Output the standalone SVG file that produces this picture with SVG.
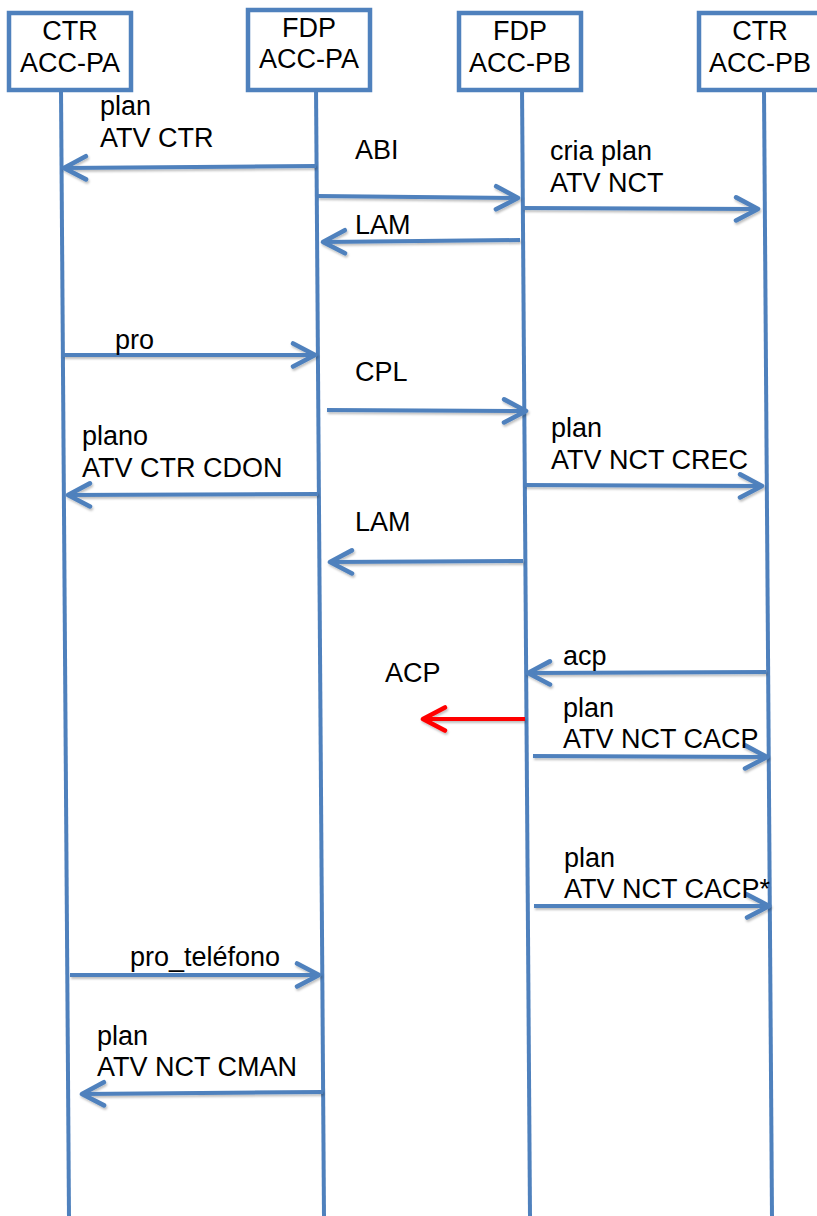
<svg xmlns="http://www.w3.org/2000/svg" width="817" height="1216" viewBox="0 0 817 1216">
<style>
.box{fill:#fff;stroke:#4F81BD;stroke-width:4.5}
.life{stroke:#4F81BD;stroke-width:4;fill:none}
.msg{stroke:#4F81BD;stroke-width:4;fill:none;marker-end:url(#ah);filter:url(#sh)}
.red{stroke:#FF0000;stroke-width:4;fill:none;marker-end:url(#ahr);filter:url(#sh)}
text{font-family:"Liberation Sans",Arial,sans-serif;font-size:27px;fill:#000}
.c{text-anchor:middle}
</style>
<defs>
<filter id="sh" filterUnits="userSpaceOnUse" x="0" y="0" width="817" height="1216">
<feDropShadow dx="1" dy="2" stdDeviation="1.2" flood-color="#000" flood-opacity="0.25"/>
</filter>
<marker id="ah" markerUnits="userSpaceOnUse" markerWidth="30" markerHeight="30" viewBox="-22 -13 26 26" refX="0" refY="0" orient="auto">
<path d="M-19,-10 L0,0 L-19,10" fill="none" stroke="#4F81BD" stroke-width="4" stroke-linecap="round" stroke-linejoin="round"/>
</marker>
<marker id="ahr" markerUnits="userSpaceOnUse" markerWidth="30" markerHeight="30" viewBox="-22 -13 26 26" refX="0" refY="0" orient="auto">
<path d="M-19,-10 L0,0 L-19,10" fill="none" stroke="#FF0000" stroke-width="4" stroke-linecap="round" stroke-linejoin="round"/>
</marker>
</defs>
<g id="lifelines">
<line class="life" x1="61" y1="90" x2="69" y2="1216"/>
<line class="life" x1="316" y1="86" x2="324" y2="1216"/>
<line class="life" x1="522" y1="86" x2="530" y2="1216"/>
<line class="life" x1="764" y1="90" x2="772" y2="1216"/>
</g>
<g id="node-ctr-pa">
<rect class="box" x="9" y="13" width="122" height="77"/>
<text class="c" x="70" y="40">CTR</text>
<text class="c" x="70" y="72">ACC-PA</text>
</g>
<g id="node-fdp-pa">
<rect class="box" x="248" y="10" width="122" height="80"/>
<text class="c" x="309" y="37">FDP</text>
<text class="c" x="309" y="68">ACC-PA</text>
</g>
<g id="node-fdp-pb">
<rect class="box" x="459" y="13" width="122" height="77"/>
<text class="c" x="520" y="40">FDP</text>
<text class="c" x="520" y="72">ACC-PB</text>
</g>
<g id="node-ctr-pb">
<rect class="box" x="699" y="13" width="122" height="77"/>
<text class="c" x="760" y="40">CTR</text>
<text class="c" x="760" y="72">ACC-PB</text>
</g>
<g id="connectors">
<line class="msg" x1="316" y1="166" x2="64" y2="168"/>
<line class="msg" x1="318" y1="196" x2="518" y2="198"/>
<line class="msg" x1="520" y1="240" x2="323" y2="242"/>
<line class="msg" x1="523" y1="208" x2="758" y2="209"/>
<line class="msg" x1="63" y1="355" x2="315" y2="355"/>
<line class="msg" x1="327" y1="410" x2="526" y2="411"/>
<line class="msg" x1="318" y1="494" x2="68" y2="495"/>
<line class="msg" x1="525" y1="485" x2="762" y2="486"/>
<line class="msg" x1="523" y1="561" x2="330" y2="562"/>
<line class="msg" x1="766" y1="672" x2="528" y2="673"/>
<line class="red" x1="525" y1="719" x2="423" y2="719"/>
<line class="msg" x1="533" y1="756" x2="767" y2="757"/>
<line class="msg" x1="534" y1="906" x2="769" y2="906"/>
<line class="msg" x1="70" y1="975" x2="319" y2="975"/>
<line class="msg" x1="323" y1="1092" x2="82" y2="1094"/>
</g>
<g id="labels">
<text x="100" y="115">plan</text>
<text x="100" y="147">ATV CTR</text>
<text x="355" y="159">ABI</text>
<text x="550" y="160">cria plan</text>
<text x="550" y="192">ATV NCT</text>
<text x="355" y="234">LAM</text>
<text x="115" y="349">pro</text>
<text x="355" y="381">CPL</text>
<text x="82" y="445">plano</text>
<text x="82" y="477">ATV CTR CDON</text>
<text x="551" y="437">plan</text>
<text x="551" y="469">ATV NCT CREC</text>
<text x="355" y="531">LAM</text>
<text x="563" y="665">acp</text>
<text x="385" y="682">ACP</text>
<text x="563" y="717">plan</text>
<text x="563" y="748">ATV NCT CACP</text>
<text x="564" y="867">plan</text>
<text x="564" y="898">ATV NCT CACP*</text>
<text x="130" y="966">pro_teléfono</text>
<text x="97" y="1045">plan</text>
<text x="97" y="1076">ATV NCT CMAN</text>
</g>
</svg>
